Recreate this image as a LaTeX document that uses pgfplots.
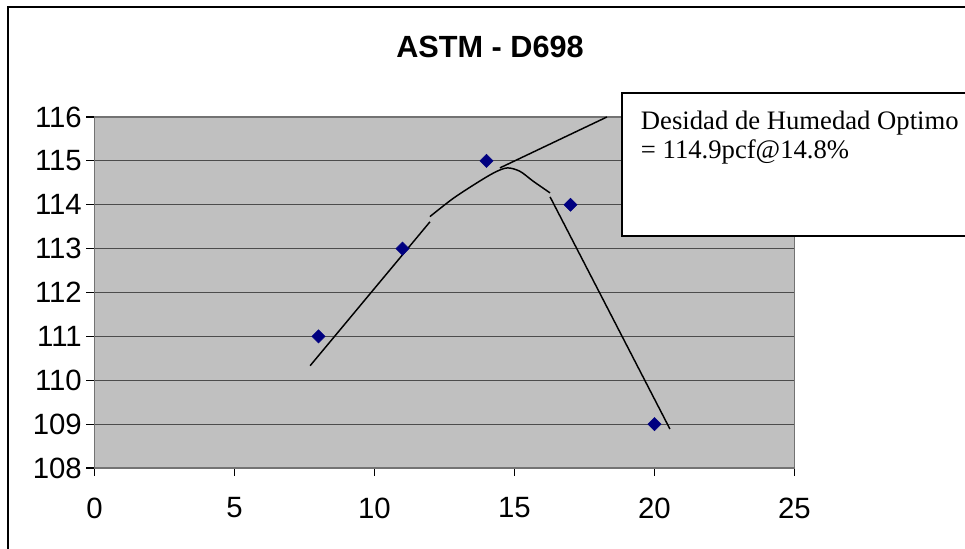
\documentclass[border=0pt]{standalone}
\usepackage{pgfplots}
\pgfplotsset{compat=1.18}
\usepackage{fontspec}
\setmainfont{Liberation Sans}
\newfontfamily\seriffont{Liberation Serif}
\definecolor{plotgray}{RGB}{192,192,192}
\definecolor{navymark}{RGB}{0,0,128}
\begin{document}
\begin{tikzpicture}[x=0.75pt,y=0.75pt]
\useasboundingbox (0,0) rectangle (965,549);
\begin{scope}
\clip (0,0) rectangle (965,549);
\draw[line width=1.5pt] (8,-20) -- (8,542) -- (1000,542);
\end{scope}
\node[anchor=base, font=\bfseries\fontsize{23}{26}\selectfont] at (490,491.7) {ASTM - D698};
\begin{axis}[
  at={(70.875pt,60.75pt)}, anchor=south west,
  width=525pt, height=263.25pt, scale only axis,
  xmin=0, xmax=25, ymin=108, ymax=116,
  xtick={0,5,...,25}, ytick={108,109,...,116},
  axis background/.style={fill=plotgray},
  axis line style={black!55, line width=0.9pt},
  ymajorgrids, grid style={black!70, line width=0.9pt},
  tick align=outside, major tick length=6pt,
  tick style={black, line width=0.8pt},
  xtick pos=bottom, ytick pos=left,
  ticklabel style={font=\fontsize{22}{24}\selectfont},
  xticklabel style={yshift=-12.75pt},
  /pgf/number format/assume math mode=true,
  clip=true,
]
\addplot[only marks, mark=square*, mark size=3.45pt, mark options={rotate=45, fill=navymark, draw=navymark}]
  coordinates {(8,111) (11,113) (14,115) (17,114) (20,109)};
\addplot[black, line width=1.1pt] coordinates {(7.70,110.33) (11.98,113.61)};
\addplot[black, line width=1.1pt, smooth, tension=0.5] coordinates {(11.98,113.73) (12.8,114.14) (13.66,114.50) (14.3,114.74) (14.75,114.84) (15.2,114.76) (15.66,114.54) (16.27,114.27)};
\addplot[black, line width=1.1pt] coordinates {(16.27,114.18) (20.55,108.89)};
\addplot[black, line width=1.1pt] coordinates {(14.48,114.84) (18.30,116.0)};
\end{axis}
\begin{scope}
\clip (0,0) rectangle (965,549);
\filldraw[fill=white, draw=black, line width=1.5pt] (622,313) rectangle (1000,456.3);
\end{scope}
\node[anchor=base west, inner sep=0pt, font=\seriffont\fontsize{20}{24}\selectfont] at (640.7,419) {Desidad de Humedad Optimo};
\node[anchor=base west, inner sep=0pt, font=\seriffont\fontsize{20}{24}\selectfont] at (640.7,390.7) {= 114.9pcf@14.8\%};
\end{tikzpicture}
\end{document}
